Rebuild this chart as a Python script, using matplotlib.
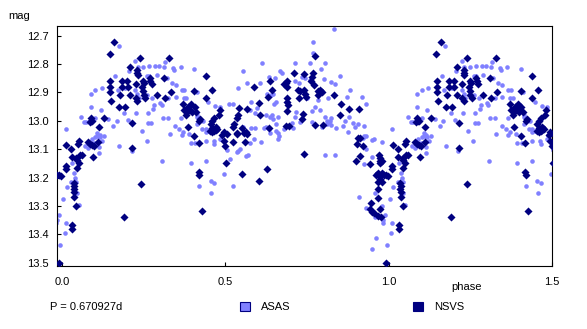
import matplotlib
matplotlib.use("Agg")
import matplotlib.pyplot as plt
from matplotlib.patches import Patch
import numpy as np

plt.rcParams['font.family'] = ['Liberation Sans', 'DejaVu Sans']

# ASAS (light) points, one period 0..1
asas_phase = [
    0.173, 0.223, 0.249, 0.267, 0.285, 0.298, 0.315, 0.312, 0.341, 0.344, 0.363, 0.405,
    0.162, 0.206, 0.232, 0.260, 0.266, 0.290, 0.320, 0.336, 0.348, 0.366, 0.373, 0.412,
    0.088, 0.101, 0.121, 0.170, 0.193, 0.224, 0.230, 0.235, 0.261, 0.277, 0.300, 0.305,
    0.325, 0.348, 0.372, 0.380, 0.088, 0.118, 0.101, 0.058, 0.068, 0.073, 0.142, 0.167,
    0.157, 0.190, 0.203, 0.228, 0.264, 0.279, 0.282, 0.310, 0.325, 0.346, 0.358, 0.364,
    0.264, 0.272, 0.011, 0.108, 0.108, 0.115, 0.244, 0.330, 0.390,
    0.091, 0.102, 0.116, 0.129, 0.098, 0.106, 0.113, 0.122, 0.113, 0.070, 0.080, 0.174,
    0.213, 0.259, 0.307, 0.366, 0.370, 0.394, 0.394, 0.407, 0.419, 0.031, 0.028, 0.043,
    0.040, 0.038, 0.014, 0.045, 0.051, 0.004, 0.011, 0.008,
    0.440, 0.447, 0.440, 0.464, 0.465, 0.484, 0.489, 0.504, 0.514, 0.535, 0.540, 0.545,
    0.563, 0.570, 0.575, 0.588, 0.608, 0.440, 0.496, 0.455, 0.465, 0.456, 0.525, 0.635,
    0.655, 0.664, 0.660, 0.680, 0.805, 0.835, 0.876, 0.930, 0.925, 0.955, 0.980, 0.932,
    0.948, 0.925, 0.958, 0.910, 0.932, 0.980, 0.990, 0.983, 0.984, 0.958, 0.960, 0.948,
    0.994, 0.975, 0.978,
    0.833, 0.767, 0.769, 0.612, 0.553, 0.713, 0.760, 0.805, 0.667, 0.672, 0.793, 0.851,
    0.734, 0.744, 0.635, 0.652, 0.606, 0.565, 0.540, 0.713, 0.725, 0.759, 0.803, 0.823,
    0.837, 0.882, 0.873, 0.917, 0.930, 0.815, 0.820, 0.823, 0.812, 0.818, 0.785, 0.790,
    0.764, 0.775, 0.750, 0.715, 0.712, 0.708, 0.650, 0.655, 0.662, 0.655, 0.645, 0.628,
    0.640, 0.646, 0.626, 0.643, 0.636, 0.596, 0.580, 0.575, 0.591, 0.511, 0.524, 0.484,
    0.468, 0.448, 0.414, 0.413, 0.414, 0.432, 0.430, 0.440, 0.555, 0.580, 0.590, 0.618,
    0.624, 0.637, 0.660, 0.703, 0.728, 0.764, 0.795, 0.805, 0.810, 0.825, 0.838, 0.861,
    0.866, 0.880, 0.890, 0.898, 0.905, 0.925, 0.922, 0.948,
]
asas_mag = [
    12.735, 12.790, 12.810, 12.807, 12.807, 12.807, 12.794, 12.810, 12.815, 12.820, 12.810, 12.817,
    12.842, 12.823, 12.810, 12.843, 12.843, 12.838, 12.848, 12.865, 12.873, 12.890, 12.890, 12.897,
    12.905, 12.891, 12.884, 12.891, 12.883, 12.890, 12.905, 12.920, 12.909, 12.918, 12.937, 12.944,
    12.920, 12.915, 12.920, 12.920, 12.950, 12.960, 12.990, 12.987, 13.005, 13.003, 12.994, 12.999,
    13.018, 12.971, 12.997, 12.973, 12.973, 12.958, 12.944, 12.991, 12.991, 13.018, 13.030, 12.991,
    13.006, 13.006, 13.027, 13.043, 13.055, 13.050, 13.036, 13.045, 13.045,
    13.065, 13.056, 13.058, 13.052, 13.079, 13.083, 13.093, 13.070, 13.112, 13.090, 13.097, 13.087,
    13.105, 13.070, 13.141, 13.050, 13.040, 13.150, 13.078, 13.078, 13.230, 13.150, 13.214, 13.214,
    13.200, 13.185, 13.232, 13.253, 13.296, 13.274, 13.358, 13.394,
    13.040, 13.035, 13.070, 13.070, 13.080, 13.064, 13.050, 13.102, 13.134, 13.110, 13.105, 13.100,
    13.125, 13.120, 13.079, 13.065, 13.073, 13.141, 13.188, 13.210, 13.220, 13.253, 13.229, 13.030,
    13.035, 13.055, 13.063, 13.030, 13.120, 13.120, 13.038, 13.053, 13.055, 13.065, 13.076, 13.100,
    13.126, 13.153, 13.255, 13.267, 13.306, 13.300, 13.330, 13.360, 13.350, 13.337, 13.413, 13.452,
    13.437, 13.200, 13.195,
    12.678, 12.721, 12.762, 12.797, 12.823, 12.795, 12.795, 12.795, 12.825, 12.830, 12.818, 12.842,
    12.845, 12.850, 12.845, 12.850, 12.865, 12.865, 12.885, 12.860, 12.868, 12.856, 12.852, 12.862,
    12.870, 12.891, 12.917, 12.917, 12.940, 12.920, 13.000, 12.990, 13.000, 13.005, 12.926, 12.963,
    12.965, 12.950, 12.920, 12.970, 12.985, 13.024, 12.940, 12.935, 12.985, 13.010, 12.995, 12.905,
    12.910, 12.905, 12.980, 12.980, 12.985, 12.953, 12.935, 12.962, 12.971, 12.940, 12.940, 12.950,
    12.946, 12.935, 12.980, 12.985, 13.010, 13.000, 13.030, 13.030, 13.022, 13.026, 13.026, 13.025,
    13.020, 13.043, 13.043, 13.006, 13.003, 13.003, 13.020, 12.985, 13.010, 13.014, 13.026, 13.018,
    13.000, 12.987, 13.007, 13.020, 13.010, 13.018, 13.060, 13.067,
]

# NSVS (dark) points, one period 0..1
nsvs_phase = [
    0.159, 0.146, 0.147, 0.147, 0.147, 0.150, 0.208, 0.239, 0.230, 0.231, 0.232, 0.185,
    0.184, 0.200, 0.201, 0.226, 0.248, 0.252, 0.270, 0.275, 0.268, 0.178, 0.175, 0.193,
    0.208, 0.226, 0.230, 0.246, 0.248, 0.250, 0.254, 0.290, 0.311, 0.314, 0.328, 0.333,
    0.370, 0.375, 0.380, 0.383, 0.387, 0.393, 0.398, 0.404, 0.395, 0.215, 0.130, 0.088,
    0.090, 0.093, 0.085, 0.112, 0.385, 0.420, 0.404, 0.053, 0.012, 0.029, 0.049, 0.080,
    0.087, 0.093, 0.098, 0.110, 0.096, 0.030, 0.043, 0.045, 0.054, 0.060, 0.011, 0.011,
    0.051, 0.045, 0.036, 0.037, 0.036, 0.037, 0.997, 0.037, 0.043, 0.031, 0.031, 0.190,
    0.214, 0.241, 0.418, 0.418, 0.419, 0.428, 0.453, 0.460, 0.465, 0.470, 0.490, 0.495,
    0.500, 0.502, 0.522, 0.535, 0.557, 0.565, 0.560, 0.550, 0.604, 0.627, 0.741, 0.906,
    0.904, 0.920, 0.912, 0.899, 0.943, 0.970, 0.972, 0.975, 0.980, 0.973, 0.960, 0.967,
    0.972, 0.980, 0.985, 0.992, 0.975, 0.968, 0.980, 0.967, 0.966, 0.946, 0.943, 0.948,
    0.955, 0.972, 0.968, 0.978, 0.992, 0.440, 0.458, 0.440, 0.406, 0.410, 0.422, 0.483,
    0.480, 0.465, 0.460, 0.455, 0.470, 0.460, 0.475, 0.495, 0.505, 0.543, 0.567, 0.540,
    0.535, 0.527, 0.525, 0.550, 0.563, 0.535, 0.588, 0.602, 0.606, 0.637, 0.643, 0.630,
    0.635, 0.680, 0.685, 0.690, 0.688, 0.690, 0.689, 0.691, 0.690, 0.685, 0.695, 0.710,
    0.722, 0.730, 0.740, 0.745, 0.748, 0.726, 0.739, 0.735, 0.740, 0.768, 0.765, 0.762,
    0.770, 0.775, 0.785, 0.790, 0.795, 0.785, 0.775, 0.800, 0.833, 0.850, 0.854, 0.879,
    0.909, 0.912,
]
nsvs_mag = [
    12.724, 12.765, 12.860, 12.880, 12.900, 12.930, 12.810, 12.780, 12.820, 12.830, 12.840, 12.860,
    12.880, 12.860, 12.880, 12.870, 12.860, 12.865, 12.860, 12.870, 12.850, 12.910, 12.950, 12.950,
    12.910, 12.920, 12.930, 12.880, 12.895, 12.910, 12.920, 12.910, 12.850, 12.920, 12.780, 12.900,
    12.940, 12.960, 12.980, 12.970, 12.950, 12.960, 12.970, 12.895, 12.940, 13.006, 12.990, 12.990,
    13.000, 13.000, 13.005, 13.020, 13.020, 13.000, 13.055, 13.070, 13.085, 13.100, 13.080, 13.076,
    13.080, 13.085, 13.090, 13.074, 13.128, 13.126, 13.130, 13.138, 13.119, 13.119, 13.160, 13.170,
    13.150, 13.167, 13.220, 13.230, 13.240, 13.250, 13.193, 13.267, 13.300, 13.365, 13.380, 13.337,
    13.094, 13.223, 13.078, 13.180, 13.190, 13.316, 13.035, 13.040, 13.037, 13.033, 13.050, 13.070,
    13.090, 13.147, 13.076, 13.044, 13.044, 13.046, 13.076, 13.188, 13.210, 13.168, 13.117, 13.060,
    13.080, 13.090, 13.122, 13.141, 13.153, 13.120, 13.130, 13.140, 13.140, 13.150, 13.190, 13.185,
    13.195, 13.185, 13.190, 13.190, 13.205, 13.215, 13.215, 13.240, 13.270, 13.290, 13.310, 13.320,
    13.325, 13.310, 13.335, 13.340, 13.500, 12.842, 12.890, 12.920, 12.950, 12.970, 12.994, 12.960,
    12.980, 12.990, 13.000, 13.010, 13.020, 13.025, 13.030, 13.040, 13.045, 12.953, 12.958, 12.980,
    12.990, 13.010, 13.020, 13.025, 13.040, 13.046, 12.882, 12.936, 12.980, 12.860, 12.890, 12.915,
    13.026, 12.870, 12.865, 12.860, 12.880, 12.920, 12.935, 12.945, 12.965, 13.017, 13.017, 12.830,
    12.890, 12.895, 12.890, 12.905, 12.915, 12.920, 12.976, 12.994, 12.835, 12.830, 12.845, 12.860,
    12.875, 12.770, 12.895, 12.890, 12.900, 12.910, 13.015, 13.015, 12.910, 12.980, 12.940, 12.958,
    12.958, 13.060,
]

x_ticks = [0.0, 0.5, 1.0, 1.5]
y_ticks = [12.7, 12.8, 12.9, 13.0, 13.1, 13.2, 13.3, 13.4, 13.5]
period_text = "P = 0.670927d"

light = '#8080ff'
dark = '#000080'


def fold(ph, mg):
    # repeat the phased curve: phase 0..0.5 shown again at 1..1.5,
    # and points just before phase 1 also shown just before 0
    ph = np.array(ph)
    mg = np.array(mg)
    lo = ph < 0.52
    hi = ph > 0.98
    return (np.concatenate([ph, ph[lo] + 1, ph[hi] - 1]),
            np.concatenate([mg, mg[lo], mg[hi]]))


ax_ph, ax_mg = fold(asas_phase, asas_mag)
nv_ph, nv_mg = fold(nsvs_phase, nsvs_mag)

fig = plt.figure(figsize=(5.87, 3.29), dpi=100)
ax = fig.add_axes([57 / 587, 63 / 329, 495 / 587, 240 / 329])

ax.scatter(ax_ph, ax_mg, marker='o', s=3.3 ** 2, color=light, linewidths=0, zorder=2)
ax.scatter(nv_ph, nv_mg, marker='D', s=4.1 ** 2, color=dark, linewidths=0, zorder=3)

ax.set_xlim(-0.0153, 1.5)
ax.set_ylim(13.511, 12.666)
ax.set_xticks(x_ticks)
ax.set_xticklabels(["%.1f" % v for v in x_ticks])
ax.set_yticks(y_ticks)
ax.set_yticklabels(["%.1f" % v for v in y_ticks])
ax.tick_params(axis='x', direction='in', length=3, width=0.8, pad=8, labelsize=8)
ax.tick_params(axis='y', direction='in', length=3, width=0.8, pad=6, labelsize=8)
for sp in ax.spines.values():
    sp.set_linewidth(0.8)

fig.text(8 / 587, 1 - 16 / 329, "mag", fontsize=8, va='center')
fig.text(467 / 587, 1 - 287 / 329, "phase", fontsize=8, ha='center', va='center')
fig.text(50 / 587, 1 - 307 / 329, period_text, fontsize=8, va='center')

handles = [Patch(facecolor=light, edgecolor=dark, linewidth=0.8, label='ASAS'),
           Patch(facecolor=dark, edgecolor=dark, linewidth=0.8, label='NSVS')]
fig.legend(handles=handles, loc='center left', bbox_to_anchor=(240 / 587, 1 - 307 / 329),
           ncol=2, frameon=False, fontsize=8, handlelength=0.9, handleheight=0.9,
           handletextpad=1.0, columnspacing=11.0, borderpad=0, borderaxespad=0)

fig.savefig("out.png", dpi=100)
